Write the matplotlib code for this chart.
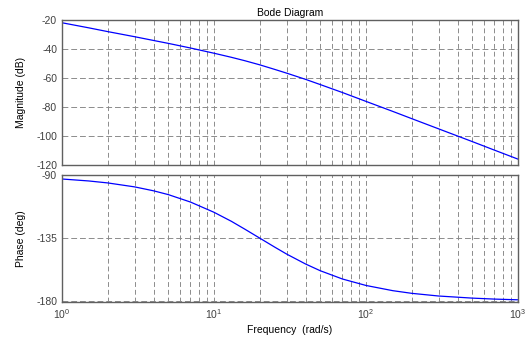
import numpy as np
import matplotlib
matplotlib.use("Agg")
import matplotlib.pyplot as plt
from matplotlib.ticker import LogLocator, NullFormatter

# values (rad/s, dB, deg)
freq = [1, 1.5, 2, 3, 4, 5, 7, 10, 13, 16, 20, 25, 30, 40, 50, 70,
        100, 150, 200, 300, 500, 700, 1000]
mag_db = [-21.9, -25.4, -28.0, -31.5, -34.1, -36.1, -39.3, -42.9, -45.7,
          -48.1, -50.9, -54.0, -56.6, -60.9, -64.5, -70.0, -76.1, -83.0,
          -88.0, -95.0, -103.8, -109.7, -115.9]
phase_deg = [-92.9, -94.3, -95.7, -98.5, -101.3, -104.0, -109.3, -116.6,
             -123.0, -128.7, -135.0, -141.3, -146.3, -153.4, -158.2, -164.1,
             -168.7, -172.4, -174.3, -176.2, -177.7, -178.4, -178.9]
mag_ticks = [-20, -40, -60, -80, -100, -120]
phase_ticks = [-90, -135, -180]

plt.rcParams['font.family'] = ['Liberation Sans', 'DejaVu Sans']
plt.rcParams['font.size'] = 7.5
plt.rcParams['axes.unicode_minus'] = False

fig = plt.figure(figsize=(5.27, 3.39), dpi=100)
ax1 = fig.add_axes([0.1176, 0.513, 0.8654, 0.428])
ax2 = fig.add_axes([0.1176, 0.109, 0.8654, 0.375])

for ax in (ax1, ax2):
    ax.set_xscale('log')
    ax.set_xlim(1, 1000)
    ax.xaxis.set_minor_locator(LogLocator(base=10, subs=np.arange(2, 10)))
    ax.xaxis.set_minor_formatter(NullFormatter())
    ax.grid(True, which='both', axis='x', color='#8c8c8c', linestyle=(0, (5, 3)), linewidth=0.7)
    ax.grid(True, which='major', axis='y', color='#8c8c8c', linestyle=(0, (6, 3)), linewidth=0.7)
    ax.tick_params(which='both', length=0, colors='#404040', labelsize=7.5)
    for s in ax.spines.values():
        s.set_color('#606060')
        s.set_linewidth(1.0)
    ax.set_axisbelow(True)

ax1.plot(freq, mag_db, color='#0000ff', linewidth=0.9)
ax1.set_ylim(-120, -20)
ax1.set_yticks(mag_ticks)
ax1.tick_params(labelbottom=False)
ax1.set_ylabel('Magnitude (dB)', fontsize=7.5, labelpad=7)
ax1.set_title('Bode Diagram', fontsize=7.5, pad=3)

ax2.plot(freq, phase_deg, color='#0000ff', linewidth=0.9)
ax2.set_ylim(-180.5, -90)
ax2.set_yticks(phase_ticks)
ax2.set_ylabel('Phase (deg)', fontsize=7.5, labelpad=7)
ax2.set_xlabel('Frequency  (rad/s)', fontsize=7.5, labelpad=3)

fig.savefig('out.png', dpi=100)
